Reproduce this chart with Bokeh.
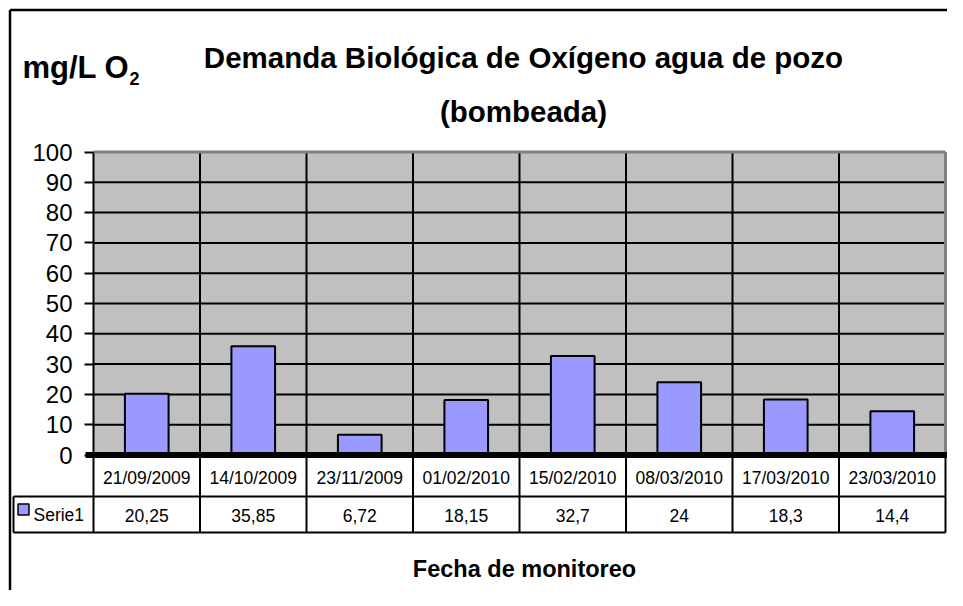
from bokeh.plotting import figure
from bokeh.models import Range1d, LinearAxis, FixedTicker
from bokeh.core.properties import value
from bokeh.embed import file_html
from bokeh.resources import INLINE

# ---------------- data ----------------
dates = ["21/09/2009", "14/10/2009", "23/11/2009", "01/02/2010",
         "15/02/2010", "08/03/2010", "17/03/2010", "23/03/2010"]
serie1 = [20.25, 35.85, 6.72, 18.15, 32.7, 24, 18.3, 14.4]
series_name = "Serie1"
yticks = [0, 10, 20, 30, 40, 50, 60, 70, 80, 90, 100]
title_line1 = "Demanda Biológica de Oxígeno agua de pozo"
title_line2 = "(bombeada)"
y_title = "mg/L O"
y_title_sub = "2"
x_title = "Fecha de monitoreo"

value_labels = [f"{v:g}".replace(".", ",") for v in serie1]

# ---------------- geometry (canvas pixels) ----------------
W, H = 947, 590
ORIGIN = 0
PLOT_L, PLOT_R = 93, 945
Y0, Y100 = 454.5, 151.5
n = len(dates)
ymax_val = yticks[-1]
px_x = (PLOT_R - PLOT_L) / n
px_y = (Y0 - Y100) / ymax_val


def dx(px):
    return (px - PLOT_L) / px_x


def dy(py):
    return (Y0 - py) / px_y


xmin, xmax = dx(ORIGIN), dx(ORIGIN + W)
ymin, ymax = dy(ORIGIN + H), dy(ORIGIN)

FONT = value("Liberation Sans")
BAR_FILL = "#9999FF"
PLOT_BG = "#C0C0C0"
PLOT_EDGE = "#808080"

p = figure(width=W, height=H, x_range=Range1d(xmin, xmax), y_range=Range1d(ymin, ymax),
           x_axis_type=None, y_axis_type=None, toolbar_location=None,
           output_backend="svg", min_border=0)
p.outline_line_color = None
p.background_fill_color = "white"
p.border_fill_color = "white"

# plot area background
p.quad(left=[0], right=[n], bottom=[0], top=[ymax_val], fill_color=PLOT_BG, line_color=None)

# horizontal gridlines
grid_y = [t for t in yticks if 0 < t < ymax_val]
p.segment(x0=[0] * len(grid_y), y0=grid_y, x1=[n] * len(grid_y), y1=grid_y,
          line_color="black", line_width=2)

# vertical category separators (plot area + table)
date_bottom = dy(496)
serie_bottom = dy(532)
sep_x = list(range(0, n))
p.segment(x0=sep_x, y0=[ymax_val] * len(sep_x), x1=sep_x, y1=[serie_bottom] * len(sep_x),
          line_color="black", line_width=2)

# plot area top/right edge (gray)
p.segment(x0=[0, n], y0=[ymax_val, ymax_val], x1=[n, n], y1=[ymax_val, 0],
          line_color=PLOT_EDGE, line_width=3)

# bars
centers = [i + 0.5 for i in range(n)]
p.vbar(x=centers, top=serie1, bottom=0, width=0.41, fill_color=BAR_FILL,
       line_color="black", line_width=2)

# thick zero line
p.segment(x0=[dx(85)], y0=[0], x1=[xmax], y1=[0], line_color="black", line_width=6)

# data table lines
left_col = dx(13)
p.segment(x0=[left_col, left_col, n, left_col],
          y0=[date_bottom, serie_bottom, 0, date_bottom],
          x1=[n, n, n, left_col],
          y1=[date_bottom, serie_bottom, serie_bottom, serie_bottom],
          line_color="black", line_width=2)

# table texts
p.text(x=centers, y=[dy(477)] * n, text=dates, text_font=FONT, text_font_size="17.5px",
       text_align="center", text_baseline="middle", text_color="black")
p.text(x=centers, y=[dy(515)] * n, text=value_labels, text_font=FONT, text_font_size="17.5px",
       text_align="center", text_baseline="middle", text_color="black")
p.scatter(x=[dx(23)], y=[dy(509)], marker="square", size=11, fill_color=BAR_FILL,
          line_color="black", line_width=1.5)
p.text(x=[dx(33)], y=[dy(514)], text=[series_name], text_font=FONT, text_font_size="17.5px",
       text_align="left", text_baseline="middle", text_color="black")

# y axis at x=0
yaxis = LinearAxis(fixed_location=0, ticker=FixedTicker(ticks=yticks),
                   axis_line_color=None, major_tick_out=9, major_tick_in=0,
                   major_tick_line_width=2, major_tick_line_color="black",
                   minor_tick_line_color=None,
                   major_label_text_font="Liberation Sans",
                   major_label_text_font_size="24px",
                   major_label_text_color="black",
                   major_label_standoff=12)
p.add_layout(yaxis, "left")

# titles
p.text(x=[dx(523)], y=[dy(57)], text=[title_line1], text_font=FONT, text_font_size="29.5px",
       text_font_style="bold", text_align="center", text_baseline="alphabetic", text_color="black")
p.text(x=[dx(523)], y=[dy(111)], text=[title_line2], text_font=FONT, text_font_size="29.5px",
       text_font_style="bold", text_align="center", text_baseline="alphabetic", text_color="black")
p.text(x=[dx(22)], y=[dy(67)], text=[y_title], text_font=FONT, text_font_size="31px",
       text_font_style="bold", text_align="left", text_baseline="alphabetic", text_color="black")
p.text(x=[dx(129)], y=[dy(78)], text=[y_title_sub], text_font=FONT, text_font_size="18px",
       text_font_style="bold", text_align="left", text_baseline="alphabetic", text_color="black")
p.text(x=[dx(524)], y=[dy(568)], text=[x_title], text_font=FONT, text_font_size="23.5px",
       text_font_style="bold", text_align="center", text_baseline="alphabetic", text_color="black")

# outer chart border (left and top visible)
bx, by = dx(9.5), dy(9.5)
p.segment(x0=[bx, bx], y0=[by, by], x1=[xmax, bx], y1=[by, ymin],
          line_color="black", line_width=2.5)

open("out.html", "w").write(file_html(p, INLINE))
